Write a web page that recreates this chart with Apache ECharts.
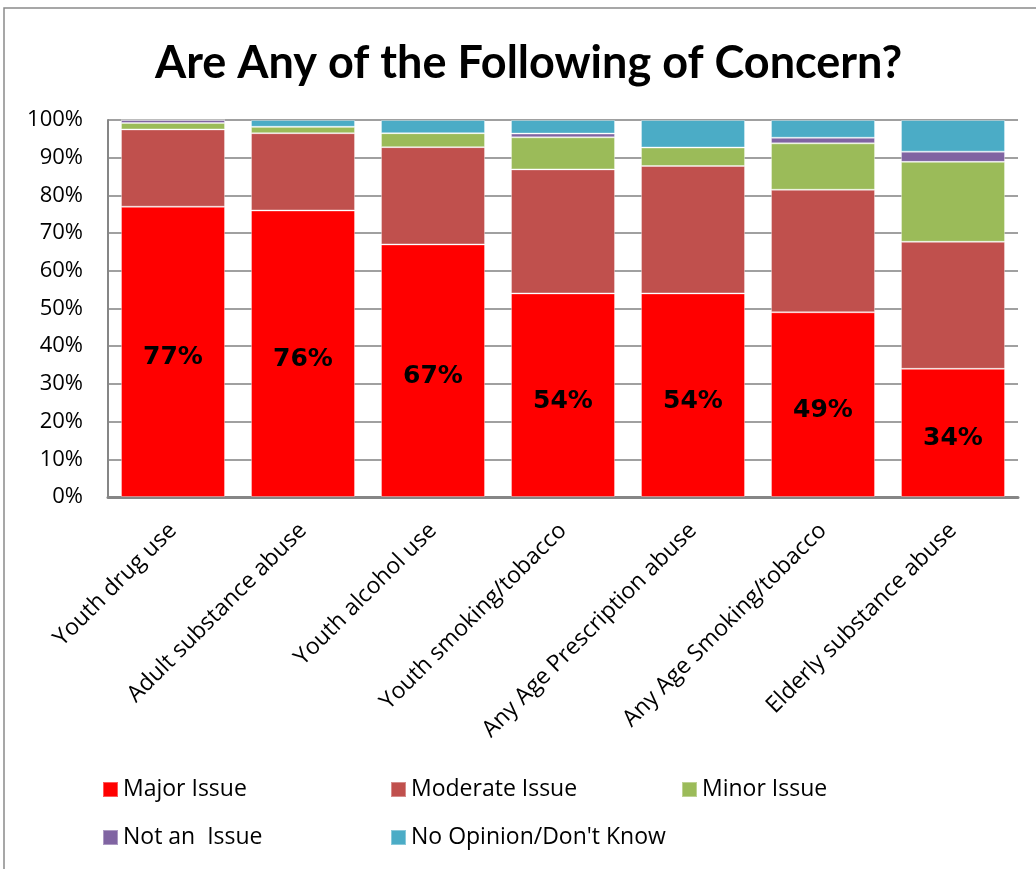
<!DOCTYPE html>
<html>
<head>
<meta charset="utf-8">
<title>Are Any of the Following of Concern?</title>
<script src="https://cdn.jsdelivr.net/npm/echarts@6/dist/echarts.min.js"></script>
<style>
  html, body { margin: 0; padding: 0; background: #ffffff; }
  #chart { width: 1036px; height: 869px; }
</style>
</head>
<body>
<div id="chart"></div>
<script>
// Survey categories (x axis)
const categories = [
  'Youth drug use',
  'Adult substance abuse',
  'Youth alcohol use',
  'Youth smoking/tobacco',
  'Any Age Prescription abuse',
  'Any Age Smoking/tobacco',
  'Elderly substance abuse'
];

// Share of responses per category, in percent
const majorIssue    = [77, 76, 67, 54, 54, 49, 34];
const moderateIssue = [20.5, 20.5, 25.8, 32.9, 33.8, 32.5, 33.7];
const minorIssue    = [1.7, 1.7, 3.7, 8.5, 4.9, 12.3, 21.2];
const notAnIssue    = [0.8, 0, 0, 1.0, 0, 1.5, 2.7];
const noOpinion     = [0, 1.8, 3.5, 3.6, 7.3, 4.7, 8.4];

const seriesNames = ['Major Issue', 'Moderate Issue', 'Minor Issue', 'Not an  Issue', "No Opinion/Don't Know"];
const seriesColors = ['#ff0000', '#c0504d', '#9bbb59', '#8064a2', '#4bacc6'];
const seriesData = [majorIssue, moderateIssue, minorIssue, notAnIssue, noOpinion];

const FONT = '"Open Sans", Lato, sans-serif';

const chart = echarts.init(document.getElementById('chart'), null, { renderer: 'canvas' });

const series = seriesData.map((data, i) => ({
  name: seriesNames[i],
  type: 'bar',
  stack: 'total',
  barWidth: '80%',
  data: data,
  itemStyle: {
    color: seriesColors[i],
    borderColor: 'rgba(255,255,255,0.35)',
    borderWidth: 1
  },
  label: i === 0 ? {
    show: true,
    position: 'inside',
    offset: [0, 6],
    formatter: p => p.value + '%',
    color: '#000',
    fontFamily: '"DejaVu Sans", Verdana, sans-serif',
    fontWeight: 'bold',
    fontSize: 25
  } : { show: false },
  emphasis: { disabled: true }
}));

// One legend per entry so each key sits at its own spot in the two rows
const legendSpots = [
  [102, 778], [390, 778], [681, 778],
  [102, 826], [390, 826]
];
const legends = seriesNames.map((name, i) => ({
  data: [name],
  left: legendSpots[i][0],
  top: legendSpots[i][1],
  padding: 0,
  itemWidth: 15,
  itemHeight: 15,
  icon: 'rect',
  textStyle: { fontFamily: FONT, fontSize: 23, color: '#000' },
  selectedMode: false
}));

chart.setOption({
  backgroundColor: '#ffffff',
  animation: false,
  title: {
    text: 'Are Any of the Following of Concern?',
    left: 155,
    top: 41,
    padding: 0,
    textStyle: {
      fontFamily: 'Lato, sans-serif',
      fontWeight: 'bold',
      fontSize: 45,
      color: '#000'
    }
  },
  graphic: [{
    type: 'rect',
    shape: { x: 4, y: 8, width: 1200, height: 1000 },
    style: { fill: 'none', stroke: '#8a8a8a', lineWidth: 1.5 },
    silent: true,
    z: -1
  }],
  legend: legends,
  grid: {
    left: 108,
    right: 18,
    top: 120,
    bottom: 372,
    containLabel: false,
    outerBoundsMode: 'none'
  },
  xAxis: {
    type: 'category',
    data: categories,
    axisTick: { show: false },
    axisLine: { lineStyle: { color: '#868686', width: 3 } },
    axisLabel: {
      rotate: 45,
      margin: 30,
      interval: 0,
      fontFamily: FONT,
      fontSize: 23,
      color: '#000'
    }
  },
  yAxis: {
    type: 'value',
    min: 0,
    max: 100,
    interval: 10,
    axisLine: { show: true, lineStyle: { color: '#868686', width: 2 } },
    axisTick: { show: false },
    axisLabel: {
      formatter: '{value}%',
      margin: 25,
      fontFamily: FONT,
      fontSize: 22,
      color: '#000'
    },
    splitLine: { lineStyle: { color: '#a0a0a0', width: 2 } }
  },
  series: series
});
</script>
</body>
</html>
